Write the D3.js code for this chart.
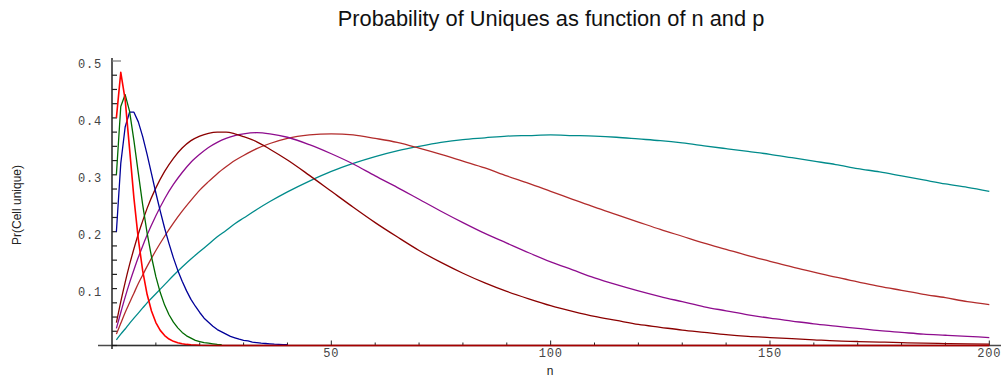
<!DOCTYPE html>
<html>
<head>
<meta charset="utf-8">
<script src="https://cdn.jsdelivr.net/npm/d3@7"></script>
<style>
  html, body { margin: 0; padding: 0; background: #fff; }
  svg { display: block; }
</style>
</head>
<body>
<svg id="chart" width="1002" height="378"></svg>
<script>
// Probability that a cell is unique, for several cell probabilities p, over sample size n.

// Sample sizes for the narrow curves (large p)
const nRed = [1,2,3,4,5,6,7,8,9,10,11,12,13,14,15,16,17,18,19,20,25,50,100,150,200];
const prRed = [0.400,0.480,0.432,0.346,0.259,0.187,0.131,0.090,0.0605,0.0403,0.0266,0.0174,0.0113,0.0073,0.0047,0.0030,0.0019,0.0012,0.0008,0.0005,0,0,0,0,0];

const nGreen = d3.range(1, 26);
const prGreen = [0.300,0.420,0.441,0.412,0.360,0.303,0.247,0.198,0.156,0.121,0.093,0.071,0.054,0.041,0.031,0.023,0.017,0.013,0.009,0.007,0.005,0.004,0.003,0.002,0.0014];

const nBlue = d3.range(1, 41);
const prBlue = [0.200,0.320,0.384,0.410,0.410,0.393,0.367,0.336,0.302,0.268,0.236,0.206,0.179,0.154,0.132,0.113,0.096,0.081,0.069,0.058,
                0.048,0.041,0.034,0.028,0.024,0.020,0.016,0.0135,0.011,0.009,0.008,0.006,0.005,0.004,0.0035,0.003,0.0023,0.0019,0.0016,0.0013];

// Sample sizes for the wide curves (small p)
const nWide = [1,2,3,4,5,6,7,8,10,12,14,16,18,20,22,24,26,28,30,33,36,40,
               45,50,55,60,65,70,75,80,85,90,95,100,105,110,115,120,125,130,135,140,145,150,155,160,165,170,175,180,185,190,195,200];
const prMaroon = [0.040,0.077,0.111,0.142,0.170,0.196,0.219,0.241,0.277,0.306,0.329,0.347,0.360,0.368,0.373,0.375,0.375,0.372,0.367,0.358,0.345,0.326,
                  0.299,0.271,0.243,0.216,0.191,0.167,0.146,0.127,0.110,0.095,0.082,0.070,0.060,0.051,0.044,0.037,0.032,0.027,0.023,0.019,0.016,0.014,0.012,0.010,0.008,0.007,0.006,0.005,0.004,0.0034,0.0028,0.0024];
const prPurple = [0.030,0.058,0.085,0.110,0.133,0.155,0.175,0.194,0.228,0.258,0.283,0.304,0.322,0.336,0.348,0.357,0.364,0.369,0.372,0.374,0.372,0.366,
                  0.353,0.337,0.319,0.298,0.278,0.257,0.236,0.216,0.197,0.180,0.163,0.147,0.133,0.119,0.107,0.096,0.086,0.077,0.068,0.061,0.054,0.048,0.043,0.038,0.034,0.030,0.026,0.023,0.020,0.018,0.016,0.014];
const prBrown = [0.020,0.039,0.058,0.075,0.092,0.109,0.124,0.139,0.167,0.192,0.215,0.236,0.255,0.273,0.288,0.302,0.314,0.325,0.334,0.346,0.355,0.364,
                 0.370,0.372,0.370,0.364,0.357,0.347,0.336,0.324,0.312,0.298,0.285,0.271,0.257,0.243,0.230,0.217,0.204,0.192,0.180,0.169,0.158,0.148,0.138,0.129,0.120,0.112,0.104,0.097,0.090,0.084,0.077,0.072];
const prTeal = [0.010,0.020,0.029,0.039,0.048,0.057,0.066,0.075,0.091,0.107,0.123,0.138,0.152,0.165,0.178,0.191,0.202,0.214,0.224,0.239,0.253,0.270,
                0.289,0.306,0.320,0.332,0.342,0.350,0.357,0.362,0.365,0.368,0.369,0.370,0.369,0.368,0.366,0.363,0.360,0.356,0.351,0.346,0.341,0.336,0.330,0.324,0.318,0.311,0.305,0.298,0.291,0.284,0.278,0.271];

const xTickLabels = [50, 100, 150, 200];
const yTickLabels = [0.1, 0.2, 0.3, 0.4, 0.5];

const titleText = "Probability of Uniques as function of n and p";
const xTitle = "n";
const yTitle = "Pr(Cell unique)";

// Drawing order: last one ends up on top
const series = [
  { n: nWide,  pr: prTeal,   color: "#008b8b", smooth: true },
  { n: nWide,  pr: prBrown,  color: "#b22c2c", smooth: true },
  { n: nWide,  pr: prPurple, color: "#8e0c8e", smooth: true },
  { n: nWide,  pr: prMaroon, color: "#8b0000", smooth: true },
  { n: nBlue,  pr: prBlue,   color: "#000099", smooth: false },
  { n: nGreen, pr: prGreen,  color: "#006a00", smooth: false },
  { n: nRed,   pr: prRed,    color: "#ff0000", smooth: false, width: 1.6 }
];

const svg = d3.select("#chart");

const x = d3.scaleLinear().domain([0, 200]).range([112, 989.3]);
const y = d3.scaleLinear().domain([0, 0.5]).range([345.5, 61]);

const axisColor = "#4a4a4a";
const tickFont = "'Liberation Mono', 'DejaVu Sans Mono', monospace";
const textFont = "'Liberation Sans', Arial, sans-serif";

// Title
svg.append("text")
  .attr("x", 551).attr("y", 26)
  .attr("text-anchor", "middle")
  .attr("font-family", textFont)
  .attr("font-size", 21.8)
  .attr("fill", "#111")
  .text(titleText);

// Axis lines
const axes = svg.append("g");
axes.append("line")
  .attr("x1", 98).attr("x2", 1001)
  .attr("y1", y(0)).attr("y2", y(0))
  .attr("stroke", axisColor).attr("stroke-width", 1.5);
axes.append("line")
  .attr("x1", x(0)).attr("x2", x(0))
  .attr("y1", 58).attr("y2", 349)
  .attr("stroke", "#222").attr("stroke-width", 1.5);

// x ticks: every 10, labelled every 50, drawn upward into the plot
const xTicks = d3.range(10, 201, 10);
axes.selectAll("line.xt").data(xTicks).join("line")
  .attr("class", "xt")
  .attr("x1", d => x(d)).attr("x2", d => x(d))
  .attr("y1", y(0)).attr("y2", d => y(0) - (d % 50 === 0 ? 5 : 3))
  .attr("stroke", "#222").attr("stroke-width", 1);

axes.selectAll("text.xl").data(xTickLabels).join("text")
  .attr("class", "xl")
  .attr("x", d => x(d)).attr("y", 357)
  .attr("text-anchor", "middle")
  .attr("font-family", tickFont)
  .attr("font-size", 12)
  .attr("letter-spacing", 0.8)
  .attr("fill", "#444")
  .text(d => d);

// y ticks: every 0.025, drawn to the right of the axis
const yTicks = d3.range(0, 21).map(i => i * 0.025);
axes.selectAll("line.yt").data(yTicks).join("line")
  .attr("class", "yt")
  .attr("x1", x(0)).attr("x2", d => x(0) + (Math.abs(d - 0.5) < 1e-9 ? 9 : 5))
  .attr("y1", d => y(d)).attr("y2", d => y(d))
  .attr("stroke", d => Math.abs(d - 0.5) < 1e-9 ? "#777" : "#222")
  .attr("stroke-width", 1.2);

axes.selectAll("text.yl").data(yTickLabels).join("text")
  .attr("class", "yl")
  .attr("x", 102).attr("y", d => y(d) + 7)
  .attr("text-anchor", "end")
  .attr("font-family", tickFont)
  .attr("font-size", 12)
  .attr("letter-spacing", 0.8)
  .attr("fill", "#444")
  .text(d => d.toFixed(1));

// Axis titles
svg.append("text")
  .attr("x", 550).attr("y", 375)
  .attr("text-anchor", "middle")
  .attr("font-family", textFont)
  .attr("font-size", 12)
  .attr("fill", "#222")
  .text(xTitle);

svg.append("text")
  .attr("transform", "translate(21,205) rotate(-90)")
  .attr("text-anchor", "middle")
  .attr("font-family", textFont)
  .attr("font-size", 12)
  .attr("fill", "#222")
  .text(yTitle);

// Curves
const plot = svg.append("g").attr("fill", "none");
series.forEach(s => {
  const pts = s.n.map((n, i) => [n, s.pr[i]]);
  const line = d3.line()
    .x(d => x(d[0]))
    .y(d => y(d[1]))
    .curve(s.smooth ? d3.curveMonotoneX : d3.curveLinear);
  plot.append("path")
    .datum(pts)
    .attr("d", line)
    .attr("stroke", s.color)
    .attr("stroke-width", s.width || 1.3)
    .attr("stroke-linejoin", "round");
});

// Axis shading over the curves lying on zero
svg.append("line")
  .attr("x1", x(0)).attr("x2", x(200))
  .attr("y1", y(0)).attr("y2", y(0))
  .attr("stroke", "#000").attr("stroke-opacity", 0.35).attr("stroke-width", 1.6);
</script>
</body>
</html>
